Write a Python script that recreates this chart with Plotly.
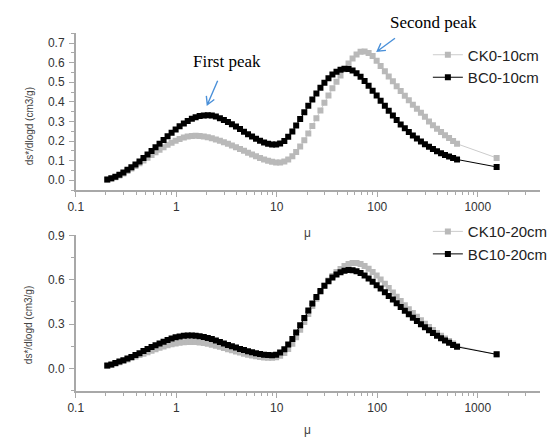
import math
import plotly.graph_objects as go

# Pore size (μm) and incremental pore volume ds*/dlogd (cm3/g)
size_um = [0.206, 0.226, 0.248, 0.272, 0.298, 0.327, 0.358, 0.393, 0.431, 0.472,
           0.518, 0.568, 0.622, 0.682, 0.748, 0.820, 0.899, 0.986, 1.08, 1.19,
           1.30, 1.43, 1.56, 1.71, 1.88, 2.06, 2.26, 2.48, 2.72, 2.98,
           3.27, 3.58, 3.93, 4.31, 4.72, 5.18, 5.68, 6.22, 6.82, 7.48,
           8.20, 8.99, 9.86, 10.8, 11.9, 13.0, 14.3, 15.6, 17.1, 18.8,
           20.6, 22.6, 24.8, 27.2, 29.8, 32.7, 35.8, 39.3, 43.1, 47.2,
           51.8, 56.8, 62.2, 68.2, 74.8, 82.0, 89.9, 98.6, 108, 119,
           130, 143, 156, 171, 188, 206, 226, 248, 272, 298,
           327, 358, 393, 431, 472, 518, 568, 622, 1540]

ck_0_10 = [0.003, 0.008, 0.015, 0.024, 0.035, 0.047, 0.060, 0.073, 0.087, 0.101,
           0.115, 0.129, 0.143, 0.156, 0.169, 0.181, 0.192, 0.202, 0.211, 0.218,
           0.223, 0.226, 0.227, 0.226, 0.223, 0.219, 0.214, 0.208, 0.201, 0.194,
           0.186, 0.177, 0.168, 0.159, 0.150, 0.140, 0.131, 0.122, 0.114, 0.106,
           0.099, 0.094, 0.091, 0.091, 0.096, 0.106, 0.122, 0.144, 0.172, 0.204,
           0.239, 0.277, 0.316, 0.356, 0.395, 0.433, 0.469, 0.503, 0.535, 0.566,
           0.596, 0.622, 0.642, 0.656, 0.657, 0.650, 0.634, 0.610, 0.583, 0.556,
           0.530, 0.505, 0.480, 0.455, 0.431, 0.408, 0.386, 0.365, 0.344, 0.324,
           0.300, 0.281, 0.263, 0.246, 0.230, 0.215, 0.200, 0.186, 0.114]

bc_0_10 = [0.004, 0.010, 0.018, 0.028, 0.040, 0.053, 0.066, 0.080, 0.096, 0.113,
           0.131, 0.149, 0.168, 0.186, 0.205, 0.224, 0.242, 0.259, 0.275, 0.290,
           0.303, 0.314, 0.322, 0.328, 0.331, 0.332, 0.330, 0.325, 0.317, 0.307,
           0.297, 0.286, 0.274, 0.261, 0.248, 0.235, 0.223, 0.212, 0.202, 0.193,
           0.186, 0.182, 0.182, 0.188, 0.200, 0.222, 0.249, 0.280, 0.313, 0.347,
           0.380, 0.412, 0.443, 0.472, 0.498, 0.521, 0.540, 0.554, 0.564, 0.569,
           0.568, 0.560, 0.546, 0.528, 0.506, 0.482, 0.457, 0.432, 0.406, 0.380,
           0.355, 0.330, 0.307, 0.285, 0.265, 0.246, 0.229, 0.213, 0.198, 0.184,
           0.171, 0.159, 0.148, 0.138, 0.129, 0.121, 0.113, 0.106, 0.068]

ck_10_20 = [0.018, 0.025, 0.033, 0.042, 0.051, 0.061, 0.071, 0.081, 0.091, 0.101,
            0.111, 0.121, 0.131, 0.140, 0.149, 0.157, 0.164, 0.170, 0.175, 0.178,
            0.180, 0.180, 0.179, 0.176, 0.172, 0.167, 0.161, 0.154, 0.147, 0.139,
            0.131, 0.123, 0.115, 0.108, 0.101, 0.094, 0.088, 0.083, 0.078, 0.075,
            0.073, 0.073, 0.077, 0.087, 0.105, 0.132, 0.168, 0.212, 0.262, 0.315,
            0.369, 0.422, 0.472, 0.518, 0.559, 0.595, 0.626, 0.652, 0.673, 0.692,
            0.706, 0.713, 0.713, 0.706, 0.693, 0.675, 0.653, 0.628, 0.601, 0.573,
            0.544, 0.514, 0.485, 0.456, 0.428, 0.401, 0.375, 0.350, 0.326, 0.303,
            0.281, 0.260, 0.240, 0.221, 0.203, 0.186, 0.170, 0.153, 0.095]

bc_10_20 = [0.020, 0.028, 0.037, 0.047, 0.057, 0.068, 0.079, 0.091, 0.104, 0.118,
            0.132, 0.145, 0.158, 0.170, 0.182, 0.193, 0.203, 0.211, 0.217, 0.221,
            0.223, 0.223, 0.221, 0.218, 0.213, 0.207, 0.199, 0.190, 0.180, 0.170,
            0.160, 0.151, 0.142, 0.133, 0.125, 0.117, 0.110, 0.104, 0.098, 0.094,
            0.091, 0.090, 0.094, 0.108, 0.130, 0.162, 0.200, 0.244, 0.292, 0.342,
            0.392, 0.440, 0.484, 0.524, 0.560, 0.590, 0.615, 0.635, 0.650, 0.660,
            0.665, 0.664, 0.657, 0.645, 0.628, 0.608, 0.586, 0.563, 0.540, 0.516,
            0.491, 0.466, 0.441, 0.416, 0.391, 0.367, 0.344, 0.322, 0.300, 0.279,
            0.259, 0.240, 0.222, 0.205, 0.189, 0.174, 0.160, 0.147, 0.096]

x_tick_vals = [0.1, 1, 10, 100, 1000]
x_tick_text = ["0.1", "1", "10", "100", "1000"]
x_minor_vals = [m * d for d in (0.1, 1, 10, 100, 1000) for m in range(2, 10)
                if m * d < 4000]

W, H = 553, 440
GRAY = "#b9b9b9"
GRAY_LINE = "#cccccc"
AXIS = "#a8a8a8"
SANS = "Liberation Sans, Arial, sans-serif"
SERIF = "Liberation Serif, Times New Roman, serif"


def px(x):
    return x / W


def py(y):
    return 1 - y / H


fig = go.Figure()


def add_pair(ck, bc, ck_name, bc_name, xa, ya, legend):
    fig.add_trace(go.Scatter(
        x=size_um, y=ck, name=ck_name, mode="lines+markers",
        xaxis=xa, yaxis=ya, legend=legend,
        line=dict(color=GRAY_LINE, width=1),
        marker=dict(symbol="square", size=6, color=GRAY, line=dict(width=0))))
    fig.add_trace(go.Scatter(
        x=size_um, y=bc, name=bc_name, mode="lines+markers",
        xaxis=xa, yaxis=ya, legend=legend,
        line=dict(color="#000000", width=1),
        marker=dict(symbol="square", size=6, color="#000000", line=dict(width=0))))


add_pair(ck_0_10, bc_0_10, "CK0-10cm", "BC0-10cm", "x", "y", "legend")
add_pair(ck_10_20, bc_10_20, "CK10-20cm", "BC10-20cm", "x2", "y2", "legend2")

x_dom = [px(70), px(550)]
xaxis_common = dict(
    type="log", range=[-1, 3.62], domain=x_dom,
    tickmode="array", tickvals=x_tick_vals, ticktext=x_tick_text,
    ticks="outside", ticklen=5, tickwidth=1, tickcolor=AXIS,
    showline=True, linecolor=AXIS, linewidth=1.5,
    showgrid=False, zeroline=False,
    tickfont=dict(family=SANS, size=12, color="#333333"),
    minor=dict(tickmode="array", tickvals=x_minor_vals, ticks="outside",
               ticklen=3, tickcolor=AXIS, showgrid=False),
)
yaxis_common = dict(
    ticks="outside", ticklen=5, tickwidth=1, tickcolor=AXIS,
    showline=True, linecolor=AXIS, linewidth=1.5,
    showgrid=False, zeroline=False, tickformat=".1f",
    tickfont=dict(family=SANS, size=12, color="#333333"),
    ticklabelstandoff=2,
)

legend_common = dict(xanchor="left", yanchor="top", bgcolor="rgba(0,0,0,0)",
                     tracegroupgap=0,
                     font=dict(family=SANS, size=15, color="#222222"))

fig.update_layout(
    width=W, height=H,
    margin=dict(l=0, r=0, t=0, b=0),
    paper_bgcolor="white", plot_bgcolor="white",
    xaxis=dict(xaxis_common, anchor="y"),
    xaxis2=dict(xaxis_common, anchor="y2"),
    yaxis=dict(yaxis_common, anchor="x", domain=[py(186), py(26.75)],
               range=[-0.05, 0.75], dtick=0.1, tick0=0,
               minor=dict(dtick=0.05, tick0=0, ticks="outside", ticklen=3,
                          tickcolor=AXIS, showgrid=False)),
    yaxis2=dict(yaxis_common, anchor="x2", domain=[py(390), py(232)],
                range=[-0.15, 0.9], dtick=0.3, tick0=0,
                minor=dict(dtick=0.15, tick0=0, ticks="outside", ticklen=3,
                           tickcolor=AXIS, showgrid=False)),
    legend=dict(legend_common, x=px(434), y=py(32)),
    legend2=dict(legend_common, x=px(434), y=py(211.5)),
    showlegend=True,
)

annotations = []
# axis titles
for yc in (121, 323):
    annotations.append(dict(
        text="ds*/dlogd (cm3/g)", x=px(22), y=py(yc), xref="paper", yref="paper",
        showarrow=False, textangle=-90, xanchor="center", yanchor="middle",
        font=dict(family=SANS, size=10, color="#444444")))
for yc in (230, 430):
    annotations.append(dict(
        text="μ", x=px(310), y=py(yc), xref="paper", yref="paper",
        showarrow=False, xanchor="center", yanchor="middle",
        font=dict(family=SANS, size=12, color="#444444")))
# peak labels
annotations.append(dict(
    text="First peak", x=px(226), y=py(55), xref="paper", yref="paper",
    showarrow=False, xanchor="center", yanchor="middle",
    font=dict(family=SERIF, size=17, color="#000000")))
annotations.append(dict(
    text="Second peak", x=px(440), y=py(16), xref="paper", yref="paper",
    showarrow=False, xanchor="center", yanchor="middle",
    font=dict(family=SERIF, size=17, color="#000000")))
fig.update_layout(annotations=annotations)


def open_arrow(x0, y0, x1, y1, head=9, color="#4a90d9"):
    dx, dy = x1 - x0, y1 - y0
    n = math.hypot(dx, dy)
    ux, uy = -dx / n, -dy / n
    pts = []
    for ang in (math.radians(30), -math.radians(30)):
        c, s = math.cos(ang), math.sin(ang)
        rx, ry = ux * c - uy * s, ux * s + uy * c
        pts.append((x1 + head * rx, y1 + head * ry))
    path = (f"M {px(x0)},{py(y0)} L {px(x1)},{py(y1)} "
            f"M {px(pts[0][0])},{py(pts[0][1])} L {px(x1)},{py(y1)} "
            f"L {px(pts[1][0])},{py(pts[1][1])}")
    fig.add_shape(type="path", path=path, xref="paper", yref="paper",
                  line=dict(color=color, width=1.4))


open_arrow(216.7, 75, 206, 99.3)
open_arrow(400, 31.7, 381.7, 45)

fig.write_html("out.html")
